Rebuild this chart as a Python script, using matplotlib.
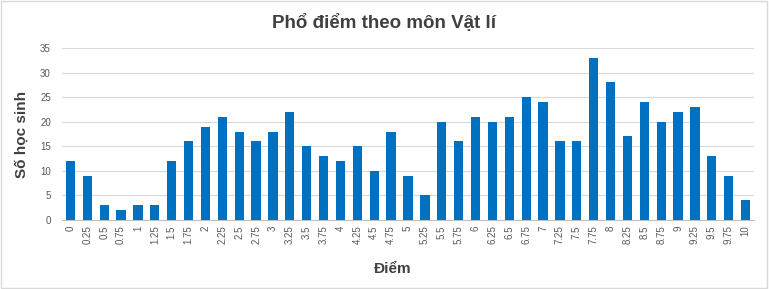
import matplotlib.pyplot as plt
from matplotlib.patches import Rectangle

plt.rcParams['font.family'] = ['Liberation Sans', 'DejaVu Sans']

# diem va so hoc sinh
diem = ['0', '0.25', '0.5', '0.75', '1', '1.25', '1.5', '1.75', '2', '2.25',
        '2.5', '2.75', '3', '3.25', '3.5', '3.75', '4', '4.25', '4.5', '4.75',
        '5', '5.25', '5.5', '5.75', '6', '6.25', '6.5', '6.75', '7', '7.25',
        '7.5', '7.75', '8', '8.25', '8.5', '8.75', '9', '9.25', '9.5', '9.75', '10']
so_hs = [12, 9, 3, 2, 3, 3, 12, 16, 19, 21,
         18, 16, 18, 22, 15, 13, 12, 15, 10, 18,
         9, 5, 20, 16, 21, 20, 21, 25, 24, 16,
         16, 33, 28, 17, 24, 20, 22, 23, 13, 9, 4]

fig = plt.figure(figsize=(7.69, 2.89), dpi=100)
fig.patches.append(Rectangle((0.001, 0.002), 0.997, 0.995, transform=fig.transFigure,
                             fill=False, edgecolor='#d9d9d9', linewidth=1))
ax = fig.add_axes([0.0806, 0.2388, 0.8999, 0.5952])

x = range(len(diem))
ax.bar(x, so_hs, width=0.55, color='#0070c0', zorder=3)
ax.set_xlim(-0.5, len(diem) - 0.5)
ax.set_ylim(0, 35)
ax.set_yticks(range(0, 36, 5))
ax.set_xticks(list(x))
ax.set_xticklabels(diem, rotation=90, fontsize=7, color='#595959')
ax.tick_params(axis='y', labelsize=7, labelcolor='#595959', length=0, pad=8)
ax.tick_params(axis='x', length=0, pad=4)
ax.grid(axis='y', color='#d9d9d9', linewidth=0.8, zorder=0)
for s in ['top', 'right', 'left']:
    ax.spines[s].set_visible(False)
ax.spines['bottom'].set_color('#bfbfbf')

fig.text(0.5, 0.92, 'Phổ điểm theo môn Vật lí', fontsize=13.5, fontweight='bold',
         color='#404040', ha='center', va='center')
fig.text(0.51, 0.07, 'Điểm', fontsize=11, fontweight='bold', color='#404040',
         ha='center', va='center')
ax.set_ylabel('Số học sinh', fontsize=11, fontweight='bold', color='#404040', labelpad=8)

fig.savefig('out.png', dpi=100)
